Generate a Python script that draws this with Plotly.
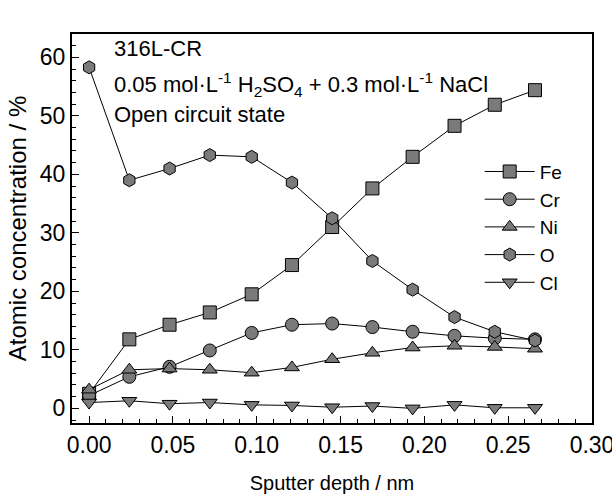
import plotly.graph_objects as go

depth = [0.000, 0.024, 0.048, 0.072, 0.097, 0.121, 0.145, 0.169, 0.193, 0.218, 0.242, 0.266]
fe = [2.5, 11.8, 14.3, 16.4, 19.5, 24.5, 31.0, 37.6, 43.0, 48.3, 51.9, 54.4]
cr = [2.2, 5.4, 7.1, 9.9, 12.9, 14.3, 14.5, 13.9, 13.1, 12.4, 12.0, 11.8]
ni = [3.2, 6.6, 6.8, 6.6, 6.1, 7.0, 8.4, 9.5, 10.4, 10.7, 10.5, 10.2]
o = [58.3, 39.0, 41.0, 43.3, 43.0, 38.6, 32.5, 25.2, 20.3, 15.6, 13.1, 11.6]
cl = [1.0, 1.3, 0.8, 1.0, 0.6, 0.5, 0.2, 0.4, 0.0, 0.6, 0.1, 0.1]

series = [("Fe", fe, "square"), ("Cr", cr, "circle"), ("Ni", ni, "triangle-up"),
          ("O", o, "hexagon"), ("Cl", cl, "triangle-down")]

fig = go.Figure()
for name, vals, sym in series:
    fig.add_trace(go.Scatter(
        x=depth, y=vals, name=name, mode="lines+markers",
        line=dict(color="black", width=1),
        marker=dict(symbol=sym, size=13, color="#7a7a7a",
                    line=dict(color="black", width=1)),
    ))

font = "Liberation Sans, Arial, sans-serif"
fig.update_layout(
    width=612, height=494,
    margin=dict(l=72, r=20, t=34, b=71),
    paper_bgcolor="white", plot_bgcolor="white",
    font=dict(family=font, color="black"),
    showlegend=True,
    legend=dict(x=0.784, y=0.695, xanchor="left", yanchor="top",
                font=dict(size=19), bgcolor="rgba(0,0,0,0)",
                itemwidth=50, tracegroupgap=0),
    xaxis=dict(range=[-0.0102, 0.30], tickvals=[0, 0.05, 0.1, 0.15, 0.2, 0.25, 0.3],
               ticktext=["0.00", "0.05", "0.10", "0.15", "0.20", "0.25", "0.30"],
               ticks="inside", ticklen=7, tickwidth=1.2, tickcolor="black",
               minor=dict(dtick=0.01, tick0=0, ticks="inside", ticklen=4, tickcolor="black"),
               showline=True, linecolor="black", linewidth=2, mirror=True,
               showgrid=False, zeroline=False, tickfont=dict(size=23), automargin=False,
               ticklabeloverflow="allow",
               title=dict(text="Sputter depth / nm", font=dict(size=20), standoff=20)),
    yaxis=dict(range=[-2.5, 64], tickvals=[0, 10, 20, 30, 40, 50, 60],
               ticks="inside", ticklen=7, tickwidth=1.2, tickcolor="black",
               minor=dict(dtick=2, tick0=0, ticks="inside", ticklen=4, tickcolor="black"),
               showline=True, linecolor="black", linewidth=2, mirror=True,
               showgrid=False, zeroline=False, tickfont=dict(size=23), automargin=False,
               title=dict(text="Atomic concentration / %", font=dict(size=24), standoff=6)),
)

ann = [("316L-CR", 0.964),
       ("0.05 mol·L<sup>-1</sup> H<sub>2</sub>SO<sub>4</sub> + 0.3 mol·L<sup>-1</sup> NaCl", 0.871),
       ("Open circuit state", 0.792)]
for txt, yy in ann:
    fig.add_annotation(text=txt, xref="paper", yref="paper", x=0.077, y=yy,
                       xanchor="left", yanchor="middle", showarrow=False,
                       font=dict(size=22, family=font))

fig.write_html("out.html")
